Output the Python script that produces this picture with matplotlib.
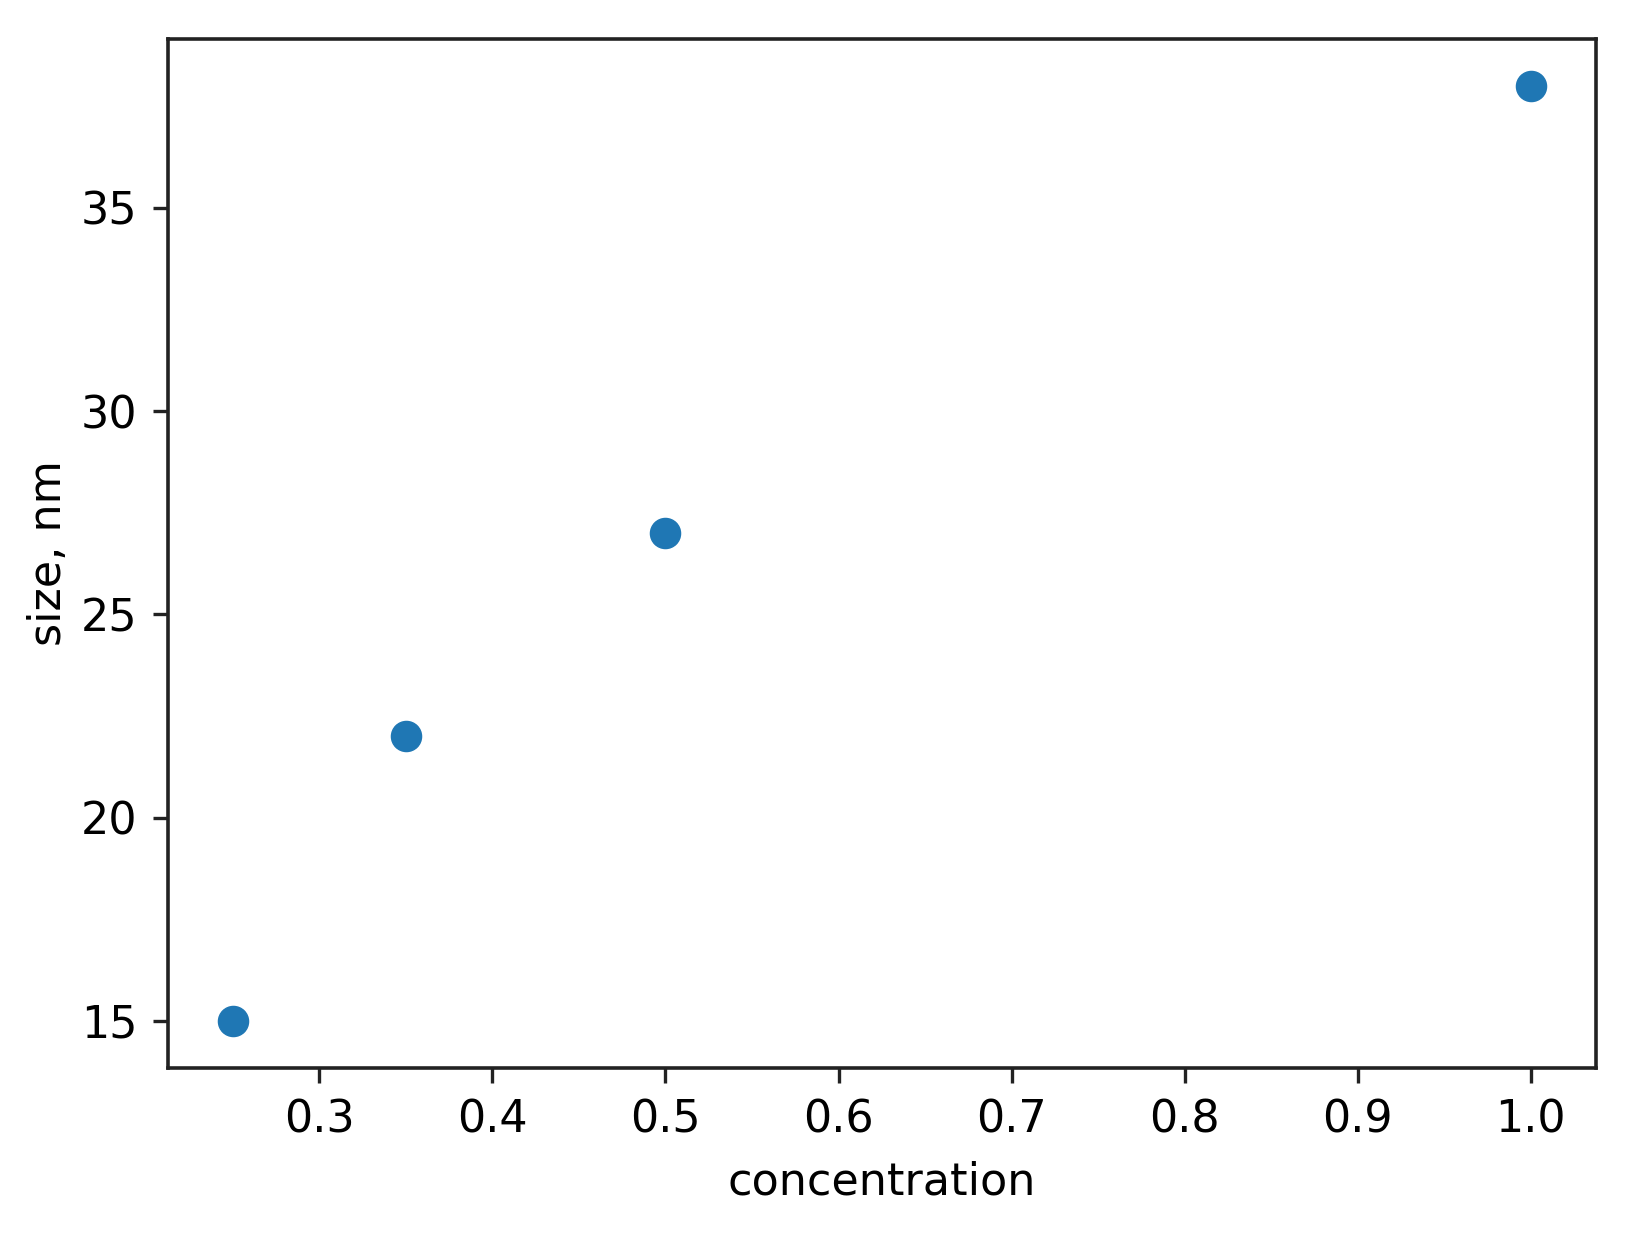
import matplotlib
matplotlib.use("Agg")
import matplotlib.pyplot as plt

concentration = [0.25, 0.35, 0.5, 1.0]
size_nm = [15, 22, 27, 38]

fs = 32
plt.rcParams['font.family'] = ['DejaVu Sans']

fig = plt.figure(figsize=(16.26, 12.33), dpi=100)
ax = fig.add_axes([0.1033, 0.1342, 0.878, 0.834])

ax.scatter(concentration, size_nm, s=470, color='#1f77b4')

ax.set_xticks([0.3, 0.4, 0.5, 0.6, 0.7, 0.8, 0.9, 1.0])
ax.set_yticks([15, 20, 25, 30, 35])
ax.tick_params(labelsize=fs, length=11, width=2.4, pad=11, color='#222222')
for sp in ax.spines.values():
    sp.set_linewidth(2.6)
    sp.set_color('#222222')

ax.set_xlabel('concentration', fontsize=fs, labelpad=14)
ax.set_ylabel('size, nm', fontsize=fs, labelpad=8)

plt.savefig('out.png', dpi=100)
